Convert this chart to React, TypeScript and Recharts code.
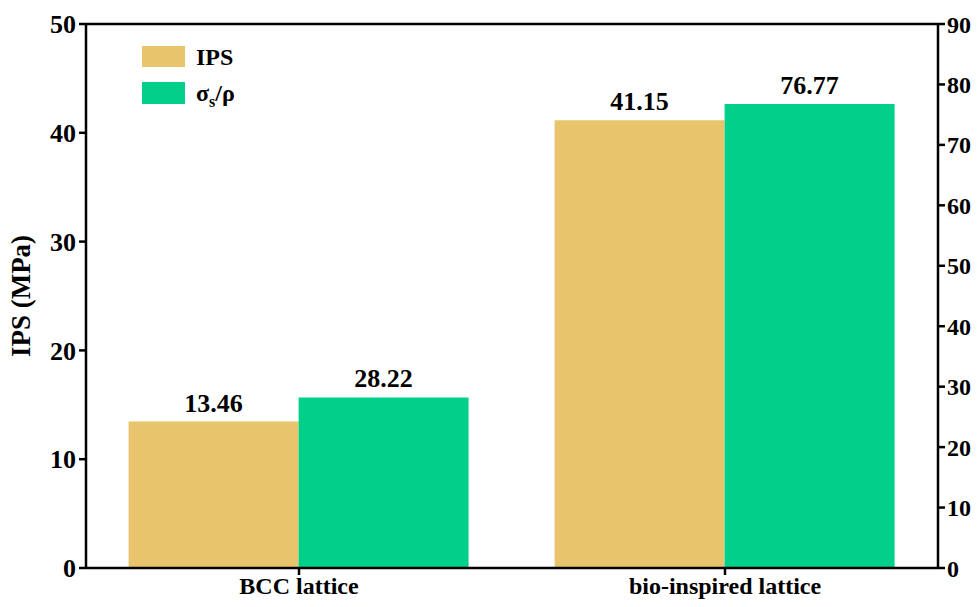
import {
  BarChart,
  Bar,
  XAxis,
  YAxis,
  ReferenceLine,
  LabelList,
} from "recharts";

const categories = ["BCC lattice", "bio-inspired lattice"];
const ipsValues = [13.46, 41.15];
const specificStrength = [28.22, 76.77];
const leftTicks = [0, 10, 20, 30, 40, 50];
const rightTicks = [0, 10, 20, 30, 40, 50, 60, 70, 80, 90];

const data = categories.map((name, i) => ({
  name,
  ips: ipsValues[i],
  ratio: specificStrength[i],
}));

const FONT = "'Liberation Serif', 'Times New Roman', serif";
const IPS_COLOR = "#E8C46C";
const RATIO_COLOR = "#00D08A";

const tickStyle = { fill: "#000", fontSize: 26, fontWeight: 700, fontFamily: FONT };

// legend sits inside the plot, top-left corner
const LegendBox = () => (
  <svg
    width={140}
    height={80}
    style={{ position: "absolute", left: 142, top: 46, overflow: "visible" }}
  >
    <rect x={0} y={0} width={43} height={21} fill={IPS_COLOR} />
    <text x={54} y={19} fontFamily={FONT} fontWeight={700} fontSize={24} fill="#000">
      IPS
    </text>
    <rect x={0} y={36} width={43} height={22} fill={RATIO_COLOR} />
    <text x={54} y={55} fontFamily={FONT} fontWeight={700} fontSize={24} fill="#000">
      σ
      <tspan fontSize={16} dy={6}>s</tspan>
      <tspan dy={-6}>/ρ</tspan>
    </text>
  </svg>
);

export default function App() {
  return (
    <div style={{ position: "absolute", left: 0, top: 0, background: "#fff" }}>
      <BarChart
        width={979}
        height={607}
        data={data}
        margin={{ top: 24, right: 0, left: 0, bottom: 0 }}
        barCategoryGap="10%"
        barGap={0}
      >
        <XAxis
          dataKey="name"
          height={39}
          axisLine={{ stroke: "#000", strokeWidth: 2.5 }}
          tickLine={{ stroke: "#000", strokeWidth: 2.5 }}
          tickSize={7}
          tick={{ ...tickStyle, fontSize: 24 }}
          tickMargin={2}
        />
        <YAxis
          yAxisId="left"
          domain={[0, 50]}
          ticks={leftTicks}
          width={86}
          axisLine={{ stroke: "#000", strokeWidth: 2.5 }}
          tickLine={{ stroke: "#000", strokeWidth: 2.5 }}
          tickSize={7}
          tick={tickStyle}
          tickMargin={3}
          label={{
            value: "IPS (MPa)",
            angle: -90,
            position: "insideLeft",
            offset: 20,
            style: { ...tickStyle, fontSize: 27, textAnchor: "middle" },
          }}
        />
        <YAxis
          yAxisId="right"
          orientation="right"
          domain={[0, 90]}
          ticks={rightTicks}
          width={41}
          axisLine={{ stroke: "#000", strokeWidth: 2.5 }}
          tickLine={{ stroke: "#000", strokeWidth: 2.5 }}
          tickSize={7}
          tick={{ ...tickStyle, fontSize: 24 }}
          tickMargin={2}
        />
        <ReferenceLine yAxisId="left" y={50} stroke="#000" strokeWidth={2.5} />
        <Bar yAxisId="left" dataKey="ips" name="IPS" fill={IPS_COLOR} isAnimationActive={false}>
          <LabelList
            dataKey="ips"
            position="top"
            offset={10}
            formatter={(v: number) => v.toFixed(2)}
            style={tickStyle}
          />
        </Bar>
        <Bar yAxisId="right" dataKey="ratio" name="σs/ρ" fill={RATIO_COLOR} isAnimationActive={false}>
          <LabelList
            dataKey="ratio"
            position="top"
            offset={10}
            formatter={(v: number) => v.toFixed(2)}
            style={tickStyle}
          />
        </Bar>
      </BarChart>
      <LegendBox />
    </div>
  );
}
